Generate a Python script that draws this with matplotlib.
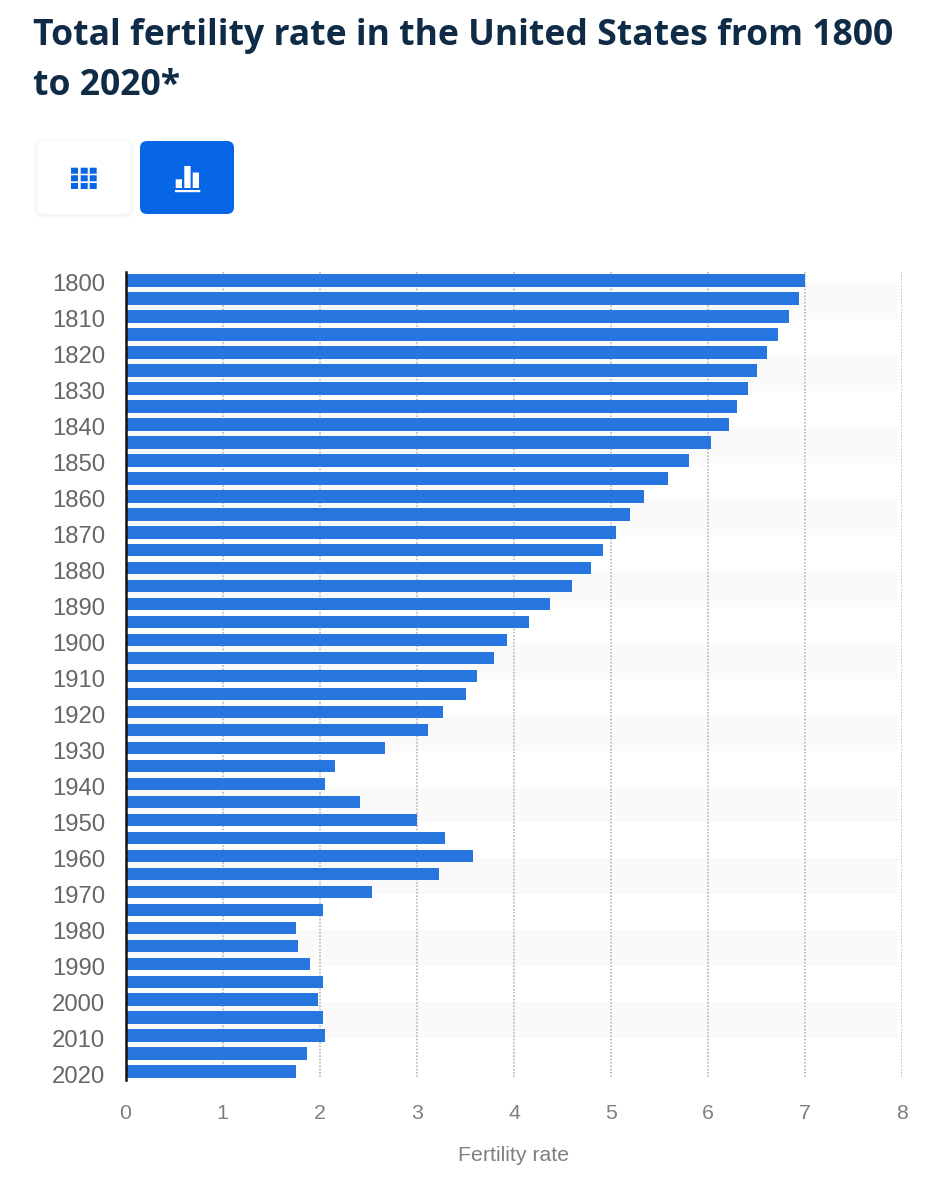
import matplotlib
matplotlib.use("Agg")
import matplotlib.pyplot as plt
from matplotlib.patches import FancyBboxPatch, Rectangle
from matplotlib.transforms import ScaledTranslation

years = list(range(1800, 2025, 5))
rates = [7.0, 6.93, 6.83, 6.72, 6.61, 6.5, 6.41, 6.3, 6.21, 6.03,
         5.8, 5.59, 5.34, 5.19, 5.05, 4.92, 4.79, 4.6, 4.37, 4.15,
         3.93, 3.79, 3.62, 3.51, 3.27, 3.11, 2.67, 2.16, 2.05, 2.41,
         3.0, 3.29, 3.58, 3.23, 2.54, 2.03, 1.76, 1.78, 1.9, 2.03,
         1.98, 2.03, 2.05, 1.87, 1.76]
x_ticks = [0, 1, 2, 3, 4, 5, 6, 7, 8]
title_lines = ["Total fertility rate in the United States from 1800", "to 2020*"]
x_label = "Fertility rate"

W, H = 945, 1200
fig = plt.figure(figsize=(W / 100, H / 100), dpi=100, facecolor="white")

# page-level overlay in pixel coordinates (title and view-switch buttons)
page = fig.add_axes([0, 0, 1, 1], zorder=0)
page.set_xlim(0, W)
page.set_ylim(H, 0)
page.axis("off")

for i, line in enumerate(title_lines):
    page.text(33, 44.6 + 50.5 * i, line, family="Open Sans", weight="bold",
              fontsize=25.6, color="#0f2b46", va="baseline", ha="left")

def button(x, y, w, h, fc):
    page.add_patch(FancyBboxPatch((x + 7, y + 7), w - 14, h - 14,
                                  boxstyle="round,pad=7,rounding_size=7",
                                  fc=fc, ec="none"))

for d, a in [(4, .006), (3, .008), (2, .01), (1, .012)]:
    page.add_patch(FancyBboxPatch((37 + 7 - d, 141 + 7 - d + 1), 94 - 14 + 2 * d, 73 - 14 + 2 * d,
                                  boxstyle="round,pad=7,rounding_size=8",
                                  fc="black", ec="none", alpha=a))
button(37, 141, 94, 73, "white")
button(140, 141, 94, 73, "#0666e6")
for cx in (71, 80.7, 89.7):
    for cy in (167.7, 175.3, 183):
        page.add_patch(Rectangle((cx, cy), 7, 6, fc="#0666e6", ec="none", snap=False))
for x0, top in [(175.7, 179.3), (184.3, 166), (192.7, 172.5)]:
    page.add_patch(Rectangle((x0, top), 6.3, 188 - top, fc="white", ec="none", snap=False))
page.add_patch(Rectangle((175, 190), 25.3, 2.2, fc="white", ec="none", snap=False))

# chart
top_px, bottom_px, left_px, right_px = 272, 1080, 125.5, 902.5
ax = fig.add_axes([left_px / W, 1 - bottom_px / H, (right_px - left_px) / W, (bottom_px - top_px) / H],
                  zorder=1)
ax.patch.set_alpha(0)
positions = list(range(len(years)))
ax.set_xlim(0, 8)
ax.set_ylim(44.46, -0.47)

for i in positions[:-1:4]:
    ax.axhspan(i + 0.14, i + 2.14, xmin=0, xmax=7.95 / 8, fc="#fafafa", ec="none", zorder=0)

ax.vlines(x_ticks[1:], -0.47, 44.35, colors="#b8b8b8", linestyles=(0, (1, 1)), linewidth=1.2, zorder=1)
ax.barh(positions, rates, height=0.70, color="#2775df", edgecolor="none", zorder=2)

for s in ("top", "right", "bottom"):
    ax.spines[s].set_visible(False)
ax.spines["left"].set_linewidth(1.8)
ax.spines["left"].set_color("#111111")
ax.spines["left"].set_zorder(3)

ax.set_xticks(x_ticks)
ax.set_xticklabels([str(t) for t in x_ticks], family="Liberation Sans", fontsize=15.4, color="#808080")
ax.tick_params(axis="x", length=0, pad=17)
ax.set_yticks(positions[::2])
ax.set_yticklabels([str(y) for y in years[::2]], family="Liberation Sans", fontsize=17.2, color="#666666")
ax.tick_params(axis="y", length=0, pad=14.5)
off = ScaledTranslation(0, -2.5 / 100, fig.dpi_scale_trans)
for lab in ax.get_yticklabels():
    lab.set_transform(lab.get_transform() + off)
ax.set_xlabel(x_label, family="Liberation Sans", fontsize=15.3, color="#808080", labelpad=16.5)

fig.savefig("out.png", dpi=100)
